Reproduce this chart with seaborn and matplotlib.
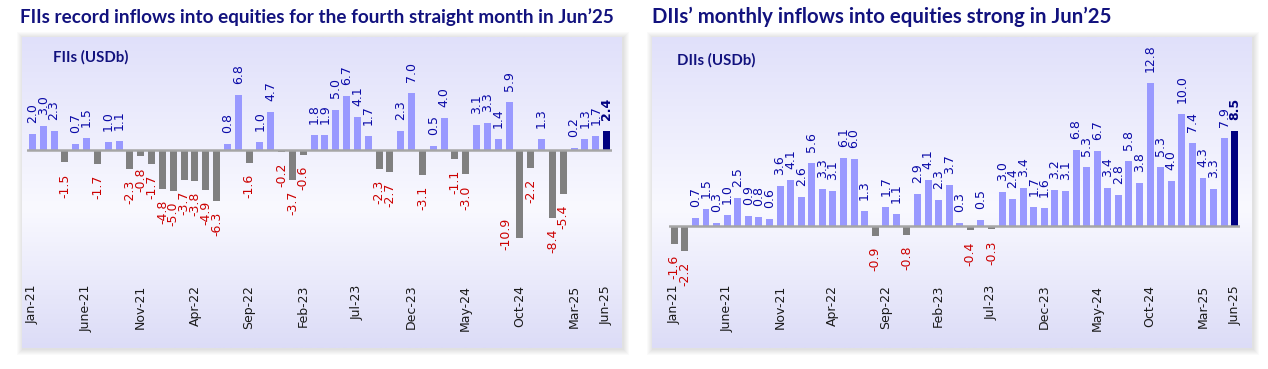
import numpy as np
import pandas as pd
import matplotlib
matplotlib.use("Agg")
import matplotlib.pyplot as plt
from matplotlib.colors import LinearSegmentedColormap
import seaborn as sns

# ---------------- data ----------------
months = pd.date_range("2021-01-01", "2025-06-01", freq="MS")
fii = [2.0, 3.0, 2.3, -1.5, 0.7, 1.5, -1.7, 1.0, 1.1, -2.3, -0.8, -1.7,
       -4.8, -5.0, -3.7, -3.8, -4.9, -6.3, 0.8, 6.8, -1.6, 1.0, 4.7, -0.2,
       -3.7, -0.6, 1.8, 1.9, 5.0, 6.7, 4.1, 1.7, -2.3, -2.7, 2.3, 7.0,
       -3.1, 0.5, 4.0, -1.1, -3.0, 3.1, 3.3, 1.4, 5.9, -10.9, -2.2, 1.3,
       -8.4, -5.4, 0.2, 1.3, 1.7, 2.4]
dii = [-1.6, -2.2, 0.7, 1.5, 0.3, 1.0, 2.5, 0.9, 0.8, 0.6, 3.6, 4.1,
       2.6, 5.6, 3.3, 3.1, 6.1, 6.0, 1.3, -0.9, 1.7, 1.1, -0.8, 2.9,
       4.1, 2.3, 3.7, 0.3, -0.4, 0.5, -0.3, 3.0, 2.4, 3.4, 1.7, 1.6,
       3.2, 3.1, 6.8, 5.3, 6.7, 3.4, 2.8, 5.8, 3.8, 12.8, 5.3, 4.0,
       10.0, 7.4, 4.3, 3.3, 7.9, 8.5]
tick_idx = [0, 5, 10, 15, 20, 25, 30, 35, 40, 45, 50, 53]
tick_labels = ["Jan-21", "June-21", "Nov-21", "Apr-22", "Sep-22", "Feb-23",
               "Jul-23", "Dec-23", "May-24", "Oct-24", "Mar-25", "Jun-25"]
titles = ["FIIs record inflows into equities for the fourth straight month in Jun\u201925",
          "DIIs\u2019 monthly inflows into equities strong in Jun\u201925"]
inner = ["FIIs (USDb)", "DIIs (USDb)"]

# ---------------- style ----------------
sns.set_style("white")
W, H = 1268, 369
fig = plt.figure(figsize=(W / 100, H / 100), dpi=100)
fig.patch.set_facecolor("white")

POS = "#9999FF"
NEG = "#808080"
LAST = "#000080"
NAVY = "#12127E"


def fbox(x0, y0, x1, y1):
    return [x0 / W, 1 - y1 / H, (x1 - x0) / W, (y1 - y0) / H]


grad = LinearSegmentedColormap.from_list(
    "g", [(0, "#E0E0FA"), (0.55, "#F9F9FF"), (1.0, "#DCDCF7")])


def panel_bg(x0, y0, x1, y1):
    # soft shadow
    for k in range(1, 7):
        r = plt.Rectangle(((x0 - k + 1) / W, 1 - (y1 + k + 1) / H),
                          (x1 - x0 + 2 * k) / W, (y1 - y0 + 2 * k) / H,
                          transform=fig.transFigure, facecolor="#000000",
                          alpha=0.018, edgecolor="none", zorder=-5)
        fig.add_artist(r)
    bg = fig.add_axes(fbox(x0, y0, x1, y1), zorder=-1)
    bg.imshow(np.linspace(0, 1, 256).reshape(-1, 1), aspect="auto", cmap=grad,
              extent=[0, 1, 0, 1])
    bg.set_axis_off()


r = None


def fit_text(x, y, s, width_px, **kw):
    global r
    t = fig.text(x / W, 1 - y / H, s, fontsize=10, **kw)
    if r is None:
        r = fig.canvas.get_renderer()
    w = t.get_window_extent(r).width
    t.set_fontsize(10 * width_px / w)
    return t


def draw_panel(axbox, vals, zero_px, ppu, floor_px=None):
    x0, y0, x1, y1 = axbox
    ax = fig.add_axes(fbox(*axbox))
    ax.patch.set_alpha(0)
    n = len(vals)
    cols = [POS if v >= 0 else NEG for v in vals]
    cols[-1] = LAST
    df = pd.DataFrame({"i": np.arange(n), "v": vals})
    sns.barplot(data=df, x="i", y="v", hue="i", palette=cols, legend=False,
                width=0.66, ax=ax, saturation=1, linewidth=0)
    ax.set_ylim(-(y1 - zero_px) / ppu, (zero_px - y0) / ppu)
    ax.set_xlim(-0.5, n - 0.5)
    ax.axhline(0, color="#A6A6A6", lw=1.8, zorder=1)
    for s in ax.spines.values():
        s.set_visible(False)
    ax.set_yticks([])
    ax.set_xticks(tick_idx)
    ax.set_xticklabels(tick_labels, rotation=90, fontsize=9, color="#1A1A1A")
    ax.tick_params(axis="x", length=0, pad=3.5)
    ax.set_xlabel("")
    ax.set_ylabel("")
    for i, v in enumerate(vals):
        last = i == n - 1
        txt = f"{v:.1f}"
        kw = dict(rotation=90, ha="center", fontsize=9, textcoords="offset pixels",
                  fontweight="bold" if last else "normal")
        if v >= 0:
            ax.annotate(txt, (i, v), xytext=(0, 11), va="bottom",
                        color=LAST if last else "#0A0AA8", **kw)
        else:
            if floor_px is not None and (zero_px - v * ppu * -1) > 0 and \
                    (zero_px + (-v) * ppu + 11 + 33) > floor_px + 30:
                fy = -(floor_px - zero_px) / ppu
                ax.annotate(txt, (i, fy), xytext=(-14, 0), va="bottom",
                            color="#CC0000", **kw)
            else:
                ax.annotate(txt, (i, v), xytext=(0, -11), va="top",
                            color="#CC0000", **kw)
    return ax


panel_bg(22, 37, 622, 348)
panel_bg(652, 37, 1252, 348)

draw_panel((27, 60, 612, 280), fii, 150, 8.1, floor_px=250)
draw_panel((669, 60, 1240, 280), dii, 226, 11.2)

fit_text(20, 17, titles[0], 594, va="center", ha="left", fontweight="bold",
         color=NAVY, family="Lato")
fit_text(652, 17, titles[1], 460, va="center", ha="left", fontweight="bold",
         color=NAVY, family="Lato")
fit_text(53, 57, inner[0], 75, va="center", ha="left", fontweight="bold",
         color=NAVY, family="Lato")
fit_text(677, 60, inner[1], 78, va="center", ha="left", fontweight="bold",
         color=NAVY, family="Lato")

fig.savefig("out.png", dpi=100)
